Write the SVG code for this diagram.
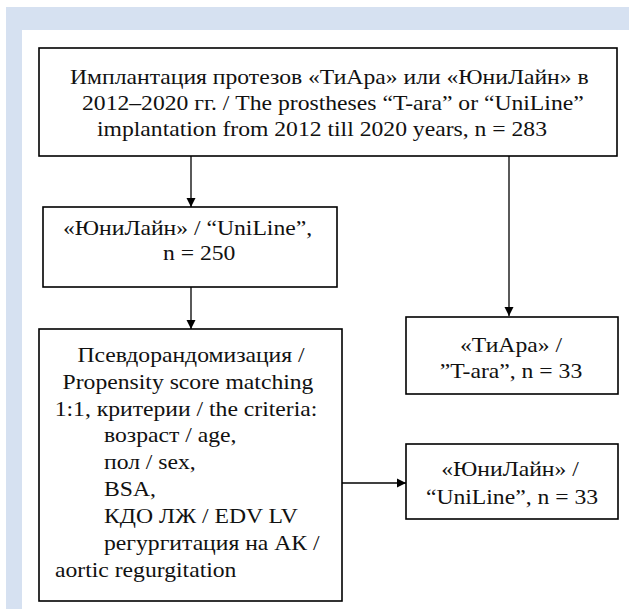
<svg xmlns="http://www.w3.org/2000/svg" width="629" height="609" viewBox="0 0 629 609">
<defs>
<style>
.bg{fill:#d6e1f1}
.box{fill:#fff;stroke:#000;stroke-width:1.6}
text{font-family:'Liberation Serif','Times New Roman',serif;font-size:21.5px;fill:#111}
.c{text-anchor:middle}
.ln{stroke:#000;stroke-width:1.3;fill:none}
</style>
<marker id="ah" markerWidth="10" markerHeight="10" refX="9" refY="5" orient="auto" markerUnits="userSpaceOnUse">
<path d="M0,0.5 L9,5 L0,9.5 Z" fill="#000"/>
</marker>
</defs>
<rect x="0" y="0" width="629" height="609" fill="#fff"/>
<rect class="bg" x="6" y="7" width="623" height="602"/>
<rect x="22" y="30" width="607" height="579" fill="#fff"/>

<g id="connectors">
<line class="ln" x1="191" y1="156" x2="191" y2="207" marker-end="url(#ah)"/>
<line class="ln" x1="509" y1="156" x2="509" y2="316" marker-end="url(#ah)"/>
<line class="ln" x1="191" y1="287" x2="191" y2="329" marker-end="url(#ah)"/>
<line class="ln" x1="342" y1="483" x2="406" y2="483" marker-end="url(#ah)"/>
</g>

<g id="node-total">
<rect class="box" x="39" y="48" width="578" height="108"/>
<text transform="translate(70 84) scale(1.1 1)">Имплантация протезов «ТиАра» или «ЮниЛайн» в</text>
<text transform="translate(82 110) scale(1.1 1)">2012–2020 гг. / The prostheses “T-ara” or “UniLine”</text>
<text transform="translate(97 136) scale(1.1 1)">implantation from 2012 till 2020 years, n = 283</text>
</g>

<g id="node-uniline250">
<rect class="box" x="43" y="207" width="294" height="80"/>
<text transform="translate(63 235) scale(1.1 1)">«ЮниЛайн» / “UniLine”,</text>
<text transform="translate(163 260) scale(1.1 1)">n = 250</text>
</g>

<g id="node-tiara">
<rect class="box" x="406" y="317" width="212" height="77"/>
<text class="c" transform="translate(511 352) scale(1.1 1)">«ТиАра» /</text>
<text class="c" transform="translate(511 378) scale(1.1 1)">”T-ara”, n = 33</text>
</g>

<g id="node-psm">
<rect class="box" x="39" y="329" width="303" height="272"/>
<text class="c" transform="translate(191 362) scale(1.1 1)">Псевдорандомизация /</text>
<text class="c" transform="translate(188 389) scale(1.1 1)">Propensity score matching</text>
<text class="c" transform="translate(186 416) scale(1.1 1)">1:1, критерии / the criteria:</text>
<text transform="translate(104 442) scale(1.1 1)">возраст / age,</text>
<text transform="translate(104 469) scale(1.1 1)">пол / sex,</text>
<text transform="translate(104 496) scale(1.1 1)">BSA,</text>
<text transform="translate(104 523) scale(1.1 1)">КДО ЛЖ / EDV LV</text>
<text transform="translate(104 550) scale(1.1 1)">регургитация на АК /</text>
<text transform="translate(55 577) scale(1.1 1)">aortic regurgitation</text>
</g>

<g id="node-uniline33">
<rect class="box" x="406" y="444" width="212" height="75"/>
<text class="c" transform="translate(510 476) scale(1.1 1)">«ЮниЛайн» /</text>
<text class="c" transform="translate(512 504) scale(1.1 1)">“UniLine”, n = 33</text>
</g>
</svg>
